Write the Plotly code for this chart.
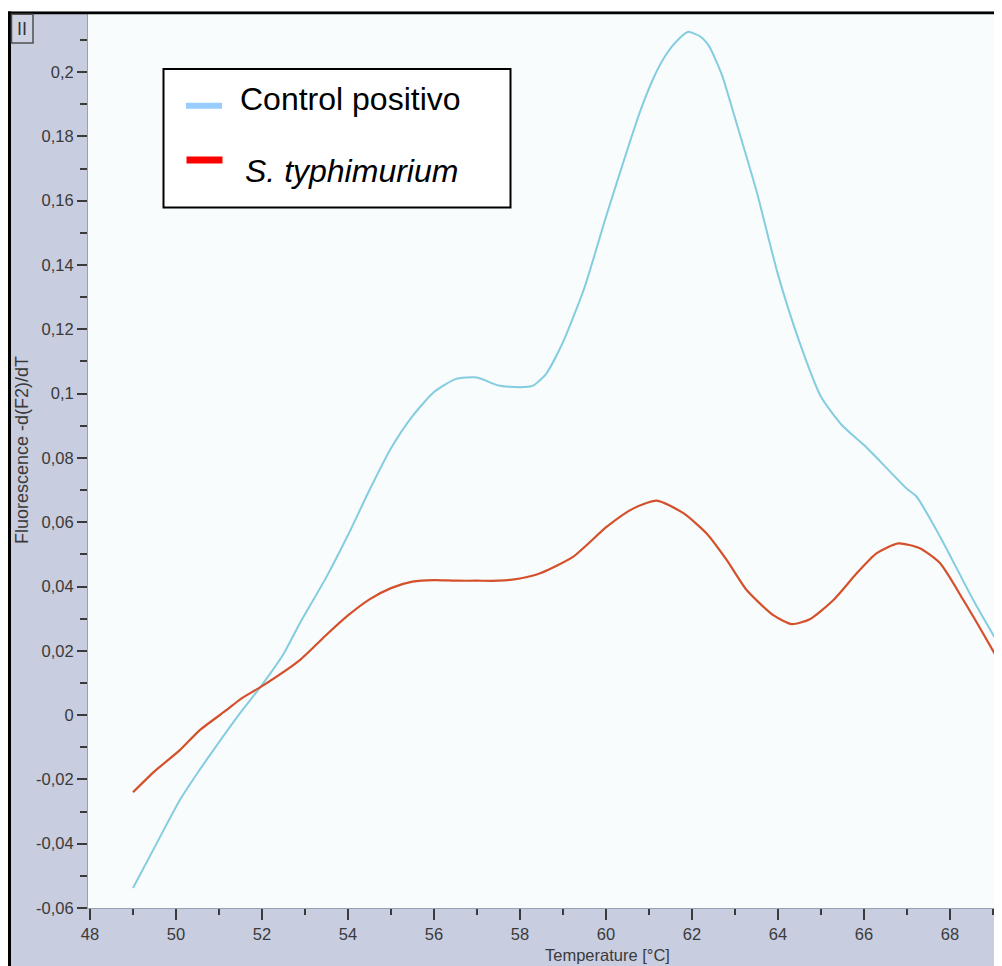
import plotly.graph_objects as go

# ---------------- data ----------------
temp_control = [49.0, 49.55, 50.09, 50.5, 50.87, 51.49, 52.0, 52.5, 52.88, 53.5, 54.0, 54.5,
                55.0, 55.5, 56.0, 56.5, 57.0, 57.5, 58.0, 58.3, 58.6, 59.0, 59.5, 60.0,
                60.5, 60.8, 61.1, 61.33, 61.6, 61.9, 62.2, 62.4, 62.7, 62.95, 63.5, 64.0,
                64.5, 65.0, 65.5, 66.0, 66.37, 66.99, 67.22, 67.77, 68.54, 69.21]
fluor_control = [-0.0538, -0.0399, -0.0264, -0.0180, -0.0109, 0.0006, 0.0094, 0.0190, 0.0286,
                 0.0430, 0.0560, 0.0700, 0.0830, 0.0930, 0.1005, 0.1045, 0.1050, 0.1025,
                 0.1020, 0.1025, 0.1060, 0.1160, 0.1330, 0.1550, 0.1760, 0.1880, 0.1980,
                 0.2040, 0.2090, 0.2125, 0.2110, 0.2080, 0.1990, 0.1880, 0.1630, 0.1370,
                 0.1160, 0.0990, 0.0900, 0.0840, 0.0790, 0.0705, 0.0680, 0.0555, 0.0358,
                 0.0202]

temp_styph = [49.0, 49.5, 50.09, 50.56, 51.18, 51.5, 52.0, 52.88, 53.5, 54.0, 54.5, 55.0,
              55.5, 56.0, 56.5, 57.0, 57.5, 58.0, 58.47, 59.24, 60.02, 60.64, 61.18, 61.8,
              62.34, 62.81, 63.27, 63.89, 64.32, 64.74, 65.29, 65.83, 66.29, 66.8, 67.3,
              67.77, 68.31, 68.77, 69.21]
fluor_styph = [-0.0240, -0.0175, -0.0109, -0.0046, 0.0016, 0.0050, 0.0090, 0.0171, 0.0250,
               0.0310, 0.0360, 0.0395, 0.0415, 0.0420, 0.0418, 0.0418, 0.0418, 0.0425,
               0.0441, 0.0493, 0.0586, 0.0643, 0.0667, 0.0628, 0.0565, 0.0482, 0.0389,
               0.0311, 0.0283, 0.0298, 0.0358, 0.0441, 0.0503, 0.0534, 0.0519, 0.0472,
               0.0358, 0.0254, 0.0151]

y_tick_values = [-0.06, -0.04, -0.02, 0.0, 0.02, 0.04, 0.06, 0.08, 0.10, 0.12, 0.14, 0.16, 0.18, 0.20]
y_tick_labels = ["-0,06", "-0,04", "-0,02", "0", "0,02", "0,04", "0,06", "0,08", "0,1",
                 "0,12", "0,14", "0,16", "0,18", "0,2"]

series_names = ["Control positivo", "S. typhimurium"]
x_title = "Temperature [°C]"
y_title = "Fluorescence -d(F2)/dT"

# ---------------- layout geometry ----------------
# The page body has an 8px margin, so the figure starts at (8, 8) of the window.
OFF = 8
W, H = 1002 - OFF, 966 - OFF
ML, MR, MT, MB = 80, 0, 6, 58
PW, PH = W - ML - MR, H - MT - MB


def px_x(px):
    """window x pixel -> paper coordinate"""
    return (px - OFF - ML) / PW


def px_y(py):
    """window y pixel -> paper coordinate"""
    return (H - MB - (py - OFF)) / PH


PANEL = "#c9cde0"
PLOT_BG = "#f8fcfc"
TICK_COL = "#3a3a3a"
FONT = "Liberation Sans, Arial, sans-serif"

fig = go.Figure()
fig.add_trace(go.Scatter(x=temp_control, y=fluor_control, mode="lines", name=series_names[0],
                         line=dict(color="#84cde0", width=2, shape="spline", smoothing=0.6),
                         showlegend=False))
fig.add_trace(go.Scatter(x=temp_styph, y=fluor_styph, mode="lines", name=series_names[1],
                         line=dict(color="#d4502a", width=2.2, shape="spline", smoothing=0.6),
                         showlegend=False))

shapes = []
# white strip above the frame
shapes.append(dict(type="rect", xref="paper", yref="paper", layer="above",
                   x0=px_x(OFF), x1=px_x(1002), y0=px_y(11.5), y1=px_y(OFF),
                   fillcolor="white", line=dict(width=0)))
# black frame (top and left)
shapes.append(dict(type="rect", xref="paper", yref="paper", layer="above",
                   x0=px_x(OFF), x1=px_x(1002), y0=px_y(14.3), y1=px_y(11.5),
                   fillcolor="black", line=dict(width=0)))
shapes.append(dict(type="rect", xref="paper", yref="paper", layer="above",
                   x0=px_x(OFF), x1=px_x(11), y0=px_y(966), y1=px_y(11.5),
                   fillcolor="black", line=dict(width=0)))
# small "II" button
shapes.append(dict(type="rect", xref="paper", yref="paper", layer="above",
                   x0=px_x(11.5), x1=px_x(33), y0=px_y(43), y1=px_y(14.3),
                   fillcolor="#cfd2e2", line=dict(color="#505050", width=1.5)))
# legend box
shapes.append(dict(type="rect", xref="paper", yref="paper", layer="above",
                   x0=px_x(163.5), x1=px_x(510.5), y0=px_y(207.5), y1=px_y(69),
                   fillcolor="white", line=dict(color="black", width=2)))
shapes.append(dict(type="line", xref="paper", yref="paper", layer="above",
                   x0=px_x(186), x1=px_x(222), y0=px_y(105.7), y1=px_y(105.7),
                   line=dict(color="#99ccff", width=6)))
shapes.append(dict(type="line", xref="paper", yref="paper", layer="above",
                   x0=px_x(186.5), x1=px_x(222.5), y0=px_y(160), y1=px_y(160),
                   line=dict(color="#ff0000", width=7)))

annotations = [
    dict(xref="paper", yref="paper", x=px_x(238), y=px_y(99), xanchor="left", yanchor="middle",
         text=series_names[0], showarrow=False, font=dict(family=FONT, size=32, color="black")),
    dict(xref="paper", yref="paper", x=px_x(243), y=px_y(171), xanchor="left", yanchor="middle",
         text="<i>" + series_names[1] + "</i>", showarrow=False,
         font=dict(family=FONT, size=32, color="black")),
    dict(xref="paper", yref="paper", x=px_x(607), y=px_y(955), xanchor="center", yanchor="middle",
         text=x_title, showarrow=False, font=dict(family=FONT, size=16.5, color=TICK_COL)),
    dict(xref="paper", yref="paper", x=px_x(22), y=px_y(450), xanchor="center", yanchor="middle",
         text=y_title, textangle=-90, showarrow=False,
         font=dict(family=FONT, size=18, color=TICK_COL)),
    dict(xref="paper", yref="paper", x=px_x(22.3), y=px_y(29), xanchor="center", yanchor="middle",
         text="II", showarrow=False, font=dict(family=FONT, size=18, color="#333333")),
]

fig.update_layout(
    width=W, height=H,
    margin=dict(l=ML, r=MR, t=MT, b=MB, pad=0),
    paper_bgcolor=PANEL,
    plot_bgcolor=PLOT_BG,
    shapes=shapes,
    annotations=annotations,
    showlegend=False,
    xaxis=dict(range=[48 - 2 / 43, 48 - 2 / 43 + PW / 43], tick0=48, dtick=2,
               ticks="outside", ticklen=11, tickwidth=1.5, tickcolor=TICK_COL,
               showgrid=False, zeroline=False, showline=True, linecolor="#9aa0b4", linewidth=1,
               tickfont=dict(family=FONT, size=16.5, color=TICK_COL),
               minor=dict(ticks="outside", dtick=1, tick0=48, ticklen=6, tickwidth=1.5,
                          tickcolor=TICK_COL)),
    yaxis=dict(range=[-0.06, -0.06 + PH / 3215.0], tickmode="array",
               tickvals=y_tick_values, ticktext=y_tick_labels,
               ticks="outside", ticklen=10, tickwidth=1.5, tickcolor=TICK_COL,
               showgrid=False, zeroline=False, showline=True, linecolor="#9aa0b4", linewidth=1,
               tickfont=dict(family=FONT, size=16.5, color=TICK_COL),
               minor=dict(ticks="outside", tickmode="linear", tick0=-0.06, dtick=0.01,
                          ticklen=7, tickwidth=1.5, tickcolor=TICK_COL)),
)

# keep the page from showing scrollbars (the figure fills the window exactly)
fig.write_html(
    "out.html",
    post_script="document.documentElement.style.overflow='hidden';"
                "document.body.style.overflow='hidden';",
)
